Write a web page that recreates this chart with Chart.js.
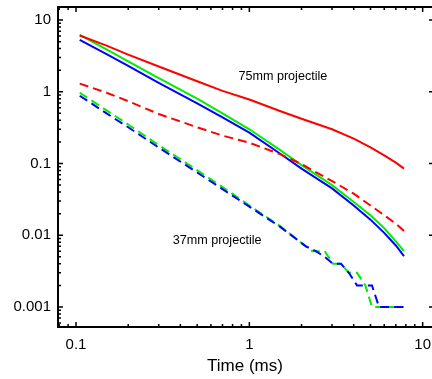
<!DOCTYPE html>
<html lang="en">
<head>
<meta charset="utf-8">
<title>Decay chart</title>
<style>
    html, body { margin: 0; padding: 0; overflow: hidden; background: #fff; }
    canvas { display: block; }
</style>
</head>
<body>
<canvas id="myChart" width="432" height="379"></canvas>
<script src="https://cdn.jsdelivr.net/npm/chart.js"></script>
<script>
    // time grid (ms) shared by the smooth curves
    var timeMs = [0.105, 0.15, 0.2, 0.3, 0.5, 0.7, 1, 1.5, 2, 3, 4, 5, 6, 7, 7.8];

    // 75mm projectile
    var red75Solid  = [6.1, 4.4, 3.3, 2.25, 1.4, 1.03, 0.78, 0.54, 0.42, 0.3, 0.222, 0.168, 0.13, 0.103, 0.085];
    var red75Dash   = [1.3, 0.97, 0.74, 0.49, 0.32, 0.245, 0.195, 0.135, 0.098, 0.057, 0.038, 0.026, 0.019, 0.0145, 0.0115];
    var greenSolid  = [6.2, 3.9, 2.65, 1.55, 0.8, 0.5, 0.3, 0.155, 0.095, 0.05, 0.029, 0.019, 0.0125, 0.0082, 0.006];
    var blueSolid   = [5.3, 3.35, 2.3, 1.33, 0.69, 0.44, 0.27, 0.138, 0.085, 0.045, 0.026, 0.0165, 0.0108, 0.0072, 0.0051];

    // 37mm projectile (steps at the end, own time points)
    var greenDashT  = [0.105, 0.15, 0.2, 0.3, 0.5, 0.7, 1, 1.5, 2, 2.31, 2.72, 3.04, 3.38, 3.75, 4.18, 4.67, 5.1, 7.8];
    var greenDashV  = [0.97, 0.55, 0.35, 0.18, 0.081, 0.047, 0.026, 0.0135, 0.0078, 0.006, 0.006, 0.004, 0.004, 0.003, 0.003, 0.002, 0.001, 0.001];
    var blueDashT   = [0.105, 0.15, 0.2, 0.3, 0.5, 0.7, 1, 1.5, 2.12, 2.42, 2.72, 3.04, 3.38, 3.75, 4.18, 4.67, 5.1, 5.6, 7.8];
    var blueDashV   = [0.88, 0.5, 0.32, 0.167, 0.075, 0.044, 0.025, 0.0132, 0.007, 0.006, 0.005, 0.004, 0.004, 0.003, 0.002, 0.002, 0.002, 0.001, 0.001];

    var xTickValues = [0.1, 1, 10];
    var yTickValues = [0.001, 0.01, 0.1, 1, 10];

    function pts(xs, ys) {
        var out = [];
        for (var i = 0; i < xs.length; i++) {
            out.push({x: xs[i], y: ys[i]});
        }
        return out;
    }

    function line(data, color, dashed) {
        return {
            data: data,
            showLine: true,
            borderColor: color,
            backgroundColor: color,
            borderWidth: 2,
            borderDash: dashed ? [9, 5] : [],
            pointRadius: 0,
            fill: false
        };
    }

    // inward tick marks, frame (right side only has major ticks) and the two text labels
    var frameTicks = {
        id: 'frameTicks',
        afterDraw: function (chart) {
            var ctx = chart.ctx, a = chart.chartArea;
            var xs = chart.scales.x, ys = chart.scales.y;
            ctx.save();
            ctx.strokeStyle = '#000';
            ctx.lineWidth = 2;
            ctx.beginPath();
            ctx.moveTo(a.left, a.top); ctx.lineTo(a.right, a.top);
            ctx.moveTo(a.left, a.top - 1); ctx.lineTo(a.left, a.bottom + 1);
            ctx.moveTo(a.left, a.bottom); ctx.lineTo(a.right, a.bottom);
            ctx.stroke();

            ctx.lineWidth = 1.5;
            ctx.beginPath();
            for (var e = -2; e <= 1; e++) {
                for (var m = 1; m <= 9; m++) {
                    var v = m * Math.pow(10, e);
                    if (v < xs.min || v > xs.max) continue;
                    var px = xs.getPixelForValue(v);
                    var len = m === 1 ? 5 : 3;
                    ctx.moveTo(px, a.bottom); ctx.lineTo(px, a.bottom - len);
                    ctx.moveTo(px, a.top); ctx.lineTo(px, a.top + len);
                }
            }
            for (var e2 = -4; e2 <= 1; e2++) {
                for (var m2 = 1; m2 <= 9; m2++) {
                    var w = m2 * Math.pow(10, e2);
                    if (w < ys.min || w > ys.max) continue;
                    var py = ys.getPixelForValue(w);
                    var l2 = m2 === 1 ? 5 : 3;
                    ctx.moveTo(a.left, py); ctx.lineTo(a.left + l2, py);
                    if (m2 === 1) {
                        ctx.moveTo(a.right, py); ctx.lineTo(a.right - 3, py);
                    }
                }
            }
            ctx.stroke();

            ctx.fillStyle = '#000';
            ctx.font = '12.6px "Liberation Sans", Arial, sans-serif';
            ctx.textAlign = 'left';
            ctx.textBaseline = 'alphabetic';
            ctx.fillText('75mm projectile', xs.getPixelForValue(0.865), ys.getPixelForValue(1.47));
            ctx.fillText('37mm projectile', xs.getPixelForValue(0.361), ys.getPixelForValue(0.0076));
            ctx.restore();
        }
    };

    Chart.defaults.font.family = '"Liberation Sans", Arial, sans-serif';
    Chart.defaults.color = '#000';

    var ctx = document.getElementById('myChart').getContext('2d');
    var myChart = new Chart(ctx, {
        type: 'scatter',
        data: {
            datasets: [
                line(pts(timeMs, red75Solid), '#ff0000', false),
                line(pts(timeMs, red75Dash), '#ff0000', true),
                line(pts(blueDashT, blueDashV), '#0000ff', true),
                line(pts(greenDashT, greenDashV), '#00ee00', true),
                line(pts(timeMs, blueSolid), '#0000ff', false),
                line(pts(timeMs, greenSolid), '#00ee00', false)
            ]
        },
        options: {
            responsive: false,
            animation: false,
            layout: {padding: {top: 7, right: 0, left: 0, bottom: 0}},
            plugins: {legend: {display: false}, tooltip: {enabled: false}},
            scales: {
                x: {
                    type: 'logarithmic',
                    min: 0.0787,
                    max: 11.32,
                    grid: {display: false, drawTicks: false},
                    border: {display: false},
                    afterBuildTicks: function (s) {
                        s.ticks = xTickValues.map(function (v) { return {value: v}; });
                    },
                    afterFit: function (s) {
                        s.height = 52;
                        s.paddingLeft = 0;
                        s.paddingRight = 0;
                    },
                    ticks: {
                        autoSkip: false,
                        maxRotation: 0,
                        padding: 9,
                        font: {size: 15},
                        callback: function (v) { return String(v); }
                    },
                    title: {
                        display: true,
                        text: 'Time (ms)',
                        font: {size: 17},
                        padding: {top: 0, bottom: 2}
                    }
                },
                y: {
                    type: 'logarithmic',
                    min: 0.000526,
                    max: 15.2,
                    grid: {display: false, drawTicks: false},
                    border: {display: false},
                    afterBuildTicks: function (s) {
                        s.ticks = yTickValues.map(function (v) { return {value: v}; });
                    },
                    afterFit: function (s) {
                        s.width = 58;
                        s.paddingTop = 0;
                        s.paddingBottom = 0;
                    },
                    ticks: {
                        autoSkip: false,
                        padding: 7,
                        font: {size: 15},
                        callback: function (v) { return String(v); }
                    }
                }
            }
        },
        plugins: [frameTicks]
    });
</script>
</body>
</html>
